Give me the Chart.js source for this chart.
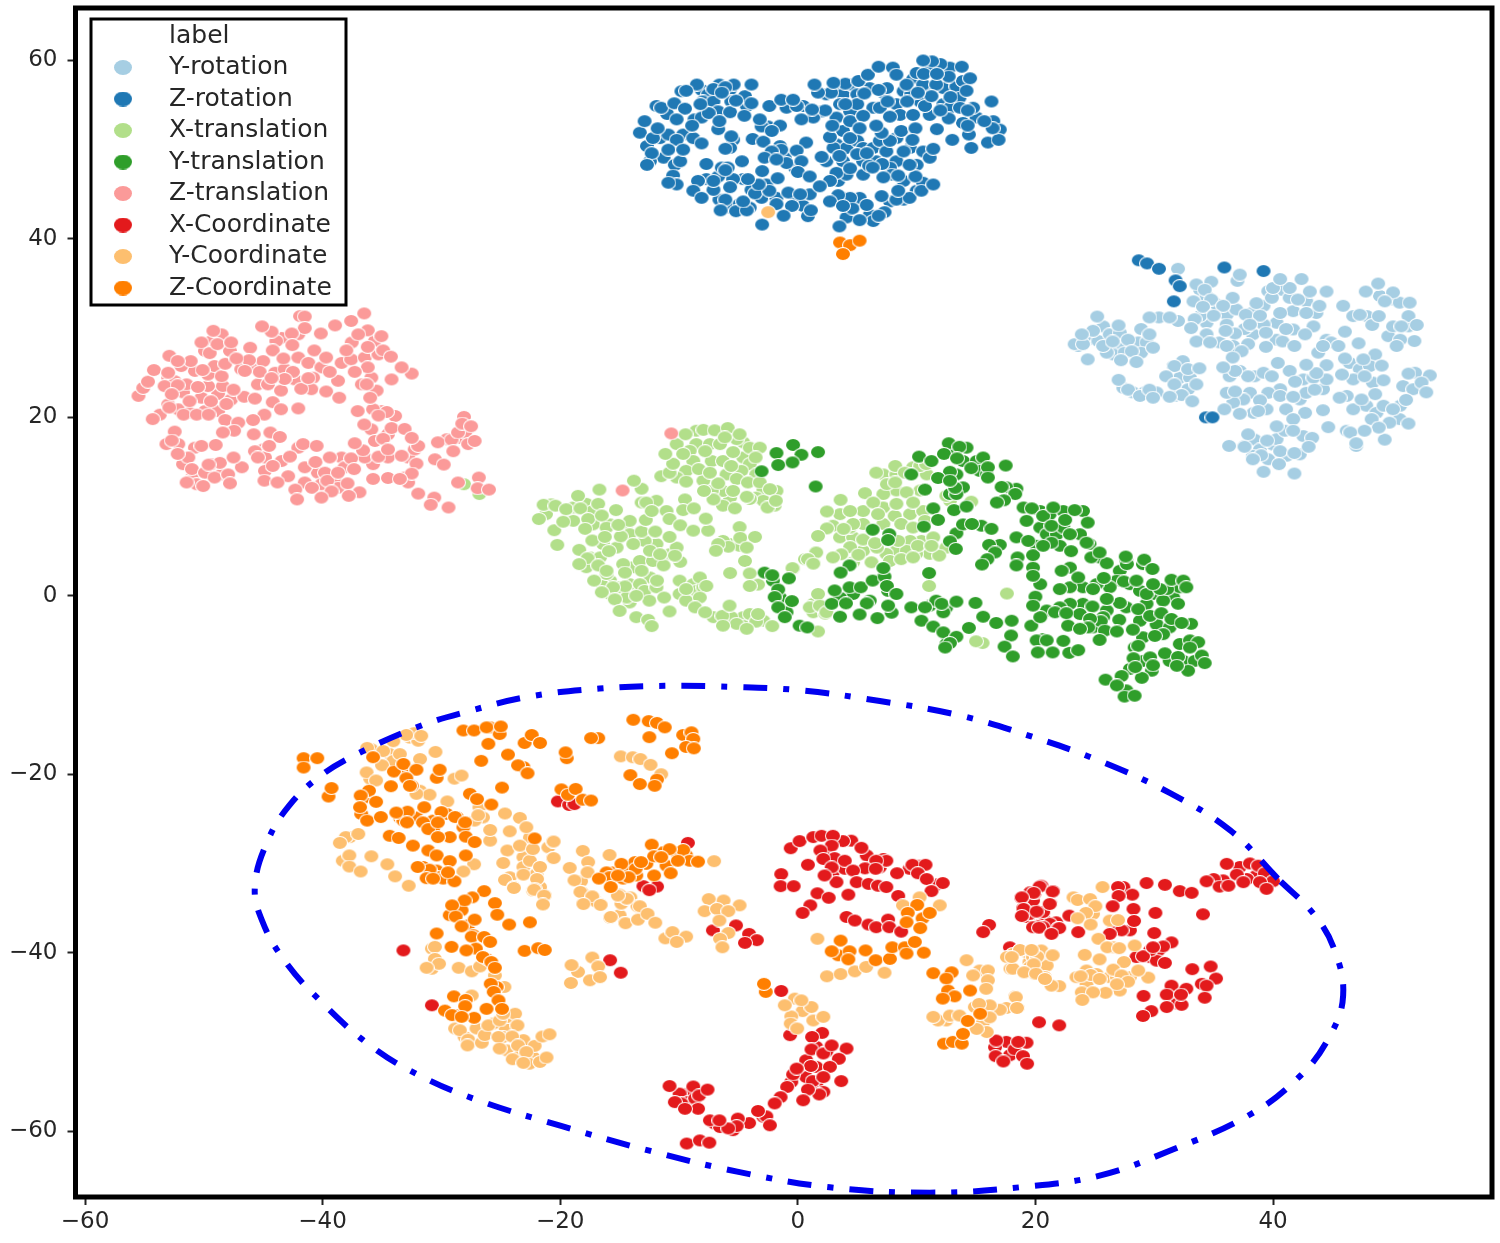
<!DOCTYPE html>
<html>
<head>
<meta charset="utf-8">
<title>t-SNE clusters</title>
<script src="https://cdn.jsdelivr.net/npm/chart.js@4"></script>
<style>
body{margin:0;background:#fff}
canvas{display:block}
</style>
</head>
<body>
<canvas id="chart" width="1500" height="1243"></canvas>
<script>
const xTicks=[-60,-40,-20,0,20,40]
const yTicks=[-60,-40,-20,0,20,40,60]
const legendTitle="label"
const labels=["Y-rotation","Z-rotation","X-translation","Y-translation","Z-translation","X-Coordinate","Y-Coordinate","Z-Coordinate"]
const colors=["#a6cee3","#1f78b4","#b2df8a","#2f9e2a","#fb9a99","#e31a1c","#fdbf6f","#ff7f00"]

const yRotation=[
[23.6,28],[24.4,28.7],[25.3,28.55],[25.7,30.2],[26.25,29.3],[27.1,29.5],[27.2,28],[28.65,28.4],[29.35,28.4],[26.55,27.05],[27.5,27.25],[28.9,27.25],[27.4,23.3],[28.2,22.8],[29.2,22.8],[30.2,22.8],[31.6,25.75],[32.4,26.3],[32.15,24.45],[33,24.45],[32.85,23.15],[31.75,22.4],
[33.85,34.3],[34.4,33.6],[35.25,32.65],[36.1,31.5],[36.9,32.1],[38.2,31.7],[39.2,32.5],[39.6,34.15],[40.7,34.3],[41.4,33.4],[42.8,33],[43.65,31.7],[41.7,31.9],[40.3,30.6],[39.2,30.4],[38.3,29.3],[37.6,29.9],[36.1,30.4],[34.4,30.6],[33.85,31.35],[34.4,29.3],[35.5,28.4],[36.65,28],[37.9,28.2],[40.3,28.7],[41.7,29.85],[43.4,30.2],[44.5,28.7],[43.8,27.25],[44.9,28.4],
[36.35,24.6],[37.2,25.2],[38.45,24.6],[39.2,25],[40.6,23.15],[39.6,22.75],[38.05,22.75],[37.5,22],[36.65,21.65],[36.1,22.75],[38.35,20.5],[39.45,20.9],[41.1,20.9],[42.25,22],[42.8,22.75],[44.2,23.15],[42.55,24.25],[43.4,24.45],[44.5,24.25],[46.45,26.1],[47.3,25.4],[48.15,25.75],[46.75,24.25],[48.4,23.9],[46.2,22.4],[47.85,21.3],[48.7,20.5],[49.3,21.3],[50.7,21.3],[50.95,23.5],[51.95,25],[51.8,23.15],[50.65,19.8],[49.8,19.4],[48.3,19.8],[47,16.8],[46.2,18.5],
[37.6,16.8],[38.45,17.5],[38.9,16.4],[40,16.95],[38.3,15.7],[39.6,15.3],[41.15,15.7],[42.25,15.85],[40.3,17.55],[41,18.5],[42.55,17.9],[50.1,33.2],[49,33.6],[50.65,32.85],[49.7,29.1],[50.1,30.2],[51.4,30.2],[47.9,31.35],[46.75,31.35],
[32,36.65],[25.2,31.3],[24.85,29.7],[23.3,28.2],[24,28.2],[23.9,29.3],[24.4,26.5],[26,27.25],[25.7,28],[26.5,28.5],[27,30.3],[27.8,28.7],[28.9,29.9],[28.1,27.4],[27.2,26.4],[28.5,26.2],[29.9,27.8],[29.6,29.3],[30.4,31.2],[29.6,31.2],[32,30.8],[31.3,31.2],
[27,24.2],[27.8,23.1],[28.8,22.4],[29.6,23.1],[29.9,22.2],[31.7,25.75],[32.85,25.4],[33.8,25.5],[31,24.6],[31.7,23.7],[33.55,23.7],[32.3,22.5],[33.2,21.8],[31.3,22.3],
[33.55,34.9],[34.8,35.2],[34.25,34.3],[34.8,33.2],[33.3,33],[36.6,33.4],[37,35.3],[37.2,36],[35.8,32.5],[34.1,32.4],[33.4,31],[35,31.4],[33.1,30],[33.55,28.5],[34.7,28.4],[36.8,29.4],[36,29.7],[36.1,28],[37.35,27.4],[36.6,26.7],
[37.7,31.5],[38.9,31.4],[38.6,32.8],[39.9,33.4],[40,34.5],[41.4,34.5],[40.6,35.5],[42.4,35.5],[43.1,34.1],[44.5,34.1],[42.1,33.2],[40.6,31.7],[43.9,32.5],[45.9,32.5],[42.8,31.7],[39.4,29.5],[39.4,27.9],[40.8,28.5],[41.8,28],[42.7,29.3],[41.1,29.9],[38.05,30.4],
[44.2,28],[46.05,29.6],[47.2,28.3],[45.5,28],[47.3,31.5],[48.35,30.35],[48.9,31.35],[47.8,34.1],[48.85,35],[50.1,34],[49.4,33],[51.5,32.85],[51.4,31.35],[50.8,30.2],[51.9,28.55],[50.7,28.7],[50.4,28],[52.1,30.35],
[48.6,27.05],[47.6,26.5],[46.05,26.6],[49.15,25.8],[47.7,24.6],[49.3,24.15],[51.4,24.9],[53.2,24.7],[52.5,23.9],[52.9,22.8],[51.2,21.95],[50.1,20.9],[51.4,19.3],[49.4,17.5],[48.9,18.85],[47.7,18.5],[46.5,18.3],[47,17.1],[46.75,20.9],[45.6,22.2],[48.6,22.6],[47.45,22],
[45.8,24.8],[44.5,25.85],[43.65,24.95],[42.8,25.9],[43.5,23.1],[41.4,25.2],[40.4,26.1],[41.85,24],[39.9,24.6],[37.9,24.6],[36.8,25.2],[35.8,25.6],[36.8,22.9],[35.9,20.9],[37.2,20.4],[38.9,21.9],[38.75,20.7],[40.6,22.4],[41.7,22.3],[44.2,20.8],[42.7,20.5],[41.7,19.8],[40.3,19],[41.7,18.5],[44.65,18.9],[43.3,17.7],[43,16.7],
[39.5,17.4],[37.9,18.1],[36.3,16.8],[37.6,16.7],[39,15.75],[40.6,16.2],[41.8,16],[40.5,14.75],[39.2,13.9],[41.8,13.7],[38.3,15.3]
]

const zRotation=[
[-13.3,51.9],[-12.7,50.4],[-11.6,51.3],[-11.3,49.1],[-10.35,48.3],[-9.9,48.7],[-12.45,48.7],[-10.9,51.7],[-9.65,51.7],[-8.8,51.3],[-8.7,53.4],[-11,54],[-11.9,54.9],[-9.8,56.55],[-8.1,56.7],[-7.55,56.2],[-6.6,57.3],[-5.7,56.75],[-8,55.4],[-7.1,55.4],[-6.7,54.3],[-8.1,53.6],[-4.3,54.9],[-5.6,55.4],[-4.45,56],
[-6.6,44.4],[-5.7,43.5],[-4.9,43.9],[-4.05,43.5],[-3.05,44.6],[-4.6,46.7],[-5.45,46.7],[-7.7,46.7],[-6.7,47],[-3.9,45.5],[-1.8,44.6],[-0.1,44.6],[0.45,43.7],[0.85,42.55],[-2.65,46.1],[-7.1,45.5],[-6.4,48],[-5.9,48],[-5.45,51.1],[-5.7,50.2],[-2.1,49.3],[-1.5,50.4],[-1.1,49.1],[-0.25,48],[-2.5,52.6],[-3.05,52.6],
[-0.95,54.7],[0.45,54.9],[2,54.3],[2.4,56.2],[3.25,57.1],[3.8,56.2],[4.5,57.3],[5,56.2],[4.4,54.3],[3.55,55.1],[3.25,53.6],[3.8,52.1],[4.4,53.2],[5,55.1],[6.05,56.9],[7.2,56.4],[7.5,56.9],[6.35,54.7],[6.9,54.7],[8.3,55.1],[8.6,53.9],[9.7,53.9],[10.3,55.4],[11.1,56.9],[12.25,56.9],[13.35,57.1],[13.9,57.7],[12.8,59.2],[11.1,58.8],[9.7,57.9],[8.9,56.55],[9.55,56.2],[10.55,57.3],[11.65,57.3],[13.6,55.8],[12.25,55.1],[11.1,53.9],[12.8,54.7],[15.05,53.6],[16.45,53.2],[17,52.25],[13.9,53],[13.65,54.7],[14.75,54.7],
[3.25,50.6],[4.1,50.2],[3.8,48.7],[5,51],[5.5,50.2],[6.35,50.2],[6.9,51],[7.45,49.8],[8.3,51.3],[9.45,50.2],[8.3,48.7],[7.75,48],[6.6,48.7],[5.5,48.7],[4.4,51.3],[3,50.2],[2.4,48.7],[3.4,46.5],[4.1,47.2],[3.8,44.6],[5.2,44.6],[4.4,44.6],[4.1,42.4],[6.05,42.7],[6.35,42],[7.75,44.2],[8.9,44.4],[10,45.4],[10.55,46.3],[8.9,46.5],[7.9,47.2],[5.5,47.2],[3.25,47.4],[10,48.3],[10.55,49.8],
[-12.9,53.2],[-12.2,51.3],[-12.3,49.6],[-12.7,48.3],[-11.5,54.7],[-10.4,55.2],[-9.5,54.6],[-8.5,57.3],[-9.4,56.6],[-7.1,56.8],[-5.4,57.3],[-3.9,57.3],[-6.1,57],[-6.4,56.4],[-10.2,53.4],[-8.9,52.7],[-7.5,54.1],[-8.2,55.1],[-5.7,54.2],[-5.2,55.5],[-3.9,55.2],[-4.5,53.8],[-3.2,53.4],[-6.7,52.3],[-6.6,53.2],
[-10.2,51.1],[-10.9,50],[-9.65,50],[-8.1,50.7],[-11.8,52.4],[-10.5,47.1],[-10.2,46.1],[-10.9,46.3],[-7.7,48.4],[-6.1,50.1],[-5.6,51.5],[-4.7,48.7],[-6.1,47.7],[-8.4,46.5],[-7.1,46.5],[-5.7,45.8],[-8.8,45.4],[-8.1,44.6],[-6.1,44.4],[-6.5,43.2],[-5.2,43.1],[-4.3,43.2],[-4.6,44.2],[-3.6,45.1],[-2.4,45.4],[-3.3,46.1],[-4.2,46.7],[-1.7,46.8],[-3,47.6],
[-3.8,51.2],[-2.9,50.9],[-1.5,52.7],[-2.4,54.9],[-1.4,55.6],[-0.1,54.9],[-2.2,52.1],[-0.4,55.6],[1.3,53.6],[0.3,53.4],[0.7,50.8],[-0.1,49.9],[-1.4,50],[-2.2,49.8],[-0.95,48.5],[0.3,48.7],[0,47.5],[1,47],[-2.8,49.1],[-1.8,48.9],[-0.8,45.2],[1,45],[0.2,45],[-1.8,43.9],[-0.5,43.7],[1.1,43.2],[-3,41.6],[-1.2,42.6],
[2,49.2],[2.7,51.4],[2.9,52.7],[2.3,54.4],[1.2,54.5],[2.8,56.4],[1.7,56.4],[1.4,57.3],[4,57.4],[3,57.5],[5.1,57.7],[5.9,58.4],[6.8,59.3],[8,59.2],[5.6,56.3],[4,55.1],[5.5,53.8],[5.2,52.4],[3.5,49.3],[4.4,47.9],[2.7,46.5],[1.85,45.9],[3.4,44.9],[2.7,44.2],[4.6,43.4],[3.8,43.7],[3.5,41.4],[5.2,42.1],[5.8,43.8],[7.3,43],[6.8,42.6],[7.05,44.8],[8.3,44.4],[9.4,44.6],[8.45,45.4],[10.4,45.4],[11.4,46.1],[9.9,47],[8.45,47.1],[7.2,46.9],
[6,48.2],[5,49.5],[5.8,49.6],[7.1,48.4],[6.3,48],[8.9,49.8],[9.4,48.3],[11.1,49.1],[11.4,50.1],[7.75,51],[7.05,51.9],[8.7,52.1],[9.9,52.4],[11.7,52.3],[9.65,51.1],[13,51.1],[14.6,50.2],[14.4,51.7],[16,50.8],[16.9,51.1],[16.4,52.4],[15.7,53.2],[14.3,52.7],[12.7,53.5],[12,54.4],[14.3,54.4],[16.3,55.4],[10.7,54.9],[9.2,55.4],[7.75,53.7],[6.6,52.7],[7.55,55.4],[6.8,56.7],[9.15,57.3],[8.3,58.4],[10,58.6],[10.6,58.5],[12,59.6],[11.3,59.9],[10.55,60],[13.8,59.3],[12.7,58.2],[14.5,58],[11.7,58.5],[14.2,56.6],[12.85,55.9],[11.25,56],[10.1,56.4],
[28.7,37.6],[29.4,37.25],[30.4,36.65],[31.8,35.35],[32.15,34.7],[31.65,33],[35.9,36.8],[39.2,36.4],[34.35,20],[34.9,20]
]

const xTranslation=[
[-28.1,12.5],[-26.8,11.4],
[-21.2,9.15],[-20.75,10.25],[-18.9,9.9],[-17.8,10.3],[-17.25,9.5],[-18.9,8.4],[-17.25,8],[-15.8,8],[-16.1,7.65],[-14.4,8],[-14.15,6.9],[-16.4,5.8],[-15.25,5.4],[-17.5,4.3],[-16.65,4.3],[-17.8,3.2],[-15.8,1.7],[-16.4,1.1],[-15.8,0.2],[-15,0.95],[-14.15,1.3],[-13.85,3.2],[-13.3,3.9],[-12.2,3.9],[-12.45,2.05],[-13.3,1.3],[-12.9,0.55],[-11.9,0.95],[-14.15,-0.75],[-14.4,-0.2],[-16.1,2.45],[-14.7,3.55],[-10.8,4.65],[-10.2,5.4],[-11.9,5.8],[-12.9,6.15],[-14.15,8.4],
[-9.95,1.7],[-8.8,1.3],[-8.55,0.55],[-9.95,0.2],[-7.95,0.95],[-4.6,-2.4],[-5.6,-2.4],[-4.6,-3.35],[-2.9,-2.8],[-4.05,-2.05],[-7.1,-2.4],[-8.55,18.5],[-8.55,17],[-7.4,17],[-6.55,17],[-4.6,17.2],[-5.15,17.55],[-9.1,16.25],[-10.2,17],[-8.8,15.1],[-7.25,15.1],[-6.3,15.1],[-4.6,15.5],[-4.05,14.75],[-9.4,14],[-10.2,13.25],[-7.95,12.9],[-6,13.6],[-4.75,14],[-3.5,13.6],[-2.9,11.95],[-1.8,11.75],[-5.7,11],[-6.3,11.75],[-7.25,11.75],[-3.5,11],[-1.95,10.1],[-2.9,10.65],[-4.05,10.85],[-5.7,5.8],[-4.9,5.6],[-6.3,6.15],[-13.15,10.45],[-11.9,10.65],
[7.2,13.6],[8.3,13.6],[9.7,14.4],[10.85,13.6],[8.3,11.8],[7.2,11.4],[10.3,11.8],[7.2,9.9],[5.5,9.5],[3.55,9.15],[2.95,7.85],[3.55,6.55],[4.65,6.55],[4.4,7.65],[5.5,8.05],[7.2,8.05],[8.15,8.95],[9.45,9.15],[10.55,9.5],[10.4,6.15],[9.45,6.15],[8.3,5.05],[7.45,4.7],[5.5,5.05],[4.4,5.45],[11.1,4.7],[6.65,5.4],[4.65,3.75],[7.75,3.9],[9.95,4.7],[9.15,5.05],[10.7,8.4],[11.4,6.55],[12.5,5.4],[1.3,-0.9],[2,-1.65],[1.3,-1.85],
[-21.8,8.6],[-21.4,10.2],[-20.4,10.1],[-19.5,9.7],[-20.5,7.35],[-20.25,5.7],[-19.75,8.3],[-18.5,11.2],[-18.3,9.8],[-16.7,11.9],[-16.8,10.3],[-15.3,9.6],[-17.65,8.6],[-16.5,9],[-17.9,7.5],[-17.3,6.2],[-16.25,6.6],[-14.9,6.65],[-15.1,7.95],[-18.4,5.15],[-17.7,4.2],[-15.9,5],[-16.8,3.4],[-18.4,3.55],[-17.15,1.7],[-16.1,2.8],[-14.55,1.05],[-15.55,0.95],[-16.5,0.4],[-15.4,-0.4],[-15,-1.7],[-13.6,-2.4],[-12.6,-2.7],[-12.3,-3.4],[-12.5,-0.55],[-13.6,0],[-11.25,-0.2],[-10.8,-1.75],[-11.85,1.7],[-13.15,2.8],[-14.55,2.6],[-13.85,5.8],[-12.45,5.05],[-13.15,7.2],[-12,7.2],[-12.8,8.5],[-10.8,6.6],[-11.3,3.4],[-11.6,4.65],[-9.9,3.8],[-10.35,4.5],
[-13.15,12],[-13.8,12.9],[-12.75,10.45],[-12.3,9.5],[-11.05,9.5],[-10.8,8.6],[-9.9,7.9],[-8.8,7.3],[-7.55,7.3],[-9.5,10.8],[-9.65,9.6],[-8.75,9.8],[-7.75,8.65],[-6.3,10.1],[-5.3,9.8],[-7.1,10.8],[-7.9,11.75],[-6.7,12.6],[-9.4,12.8],[-11.5,13.4],[-10.8,13.8],[-10.5,14.8],[-11.15,15.9],[-9.65,15.9],[-9.45,18.1],[-7.8,16.2],[-7.95,18.6],[-7,18.55],[-5.9,18.8],[-6.15,17.75],[-4.9,18.1],[-5.45,16.1],[-4.05,16.6],[-3.2,16.6],[-3.55,15.5],[-5.6,14.55],[-8.35,14.2],[-7.4,13.8],[-5.15,13.1],[-4.2,12.7],[-3.2,12.7],[-2.35,11.95],[-4.3,11.1],[-5.45,11.75],[-2.55,9.9],[-1.85,10.65],
[-4.9,7.7],[-4.85,6.5],[-3.6,6.6],[-5.85,5.5],[-6.7,5.8],[-6.9,5.05],[-4.3,5.4],[-4.45,3.9],[-5.7,2.55],[-4.05,2.5],[-3.35,1.25],[-4.05,1.1],[-9.4,-0.55],[-9.4,0.75],[-8.25,2.05],[-7.7,1.1],[-8.25,-0.2],[-8.65,-1.3],[-7.8,-1.85],[-6.35,-2.25],[-5.75,-1.1],[-5.15,-3.15],[-3.5,-2.9],[-3.35,-2.05],[-2.15,-3.4],[-4.3,-3.7],[-6.3,-3.35],[-0.4,3.05],[1.3,3.65],[1.5,4.85],[0.6,4.1],[1.85,-1.1],[1,-1.3],[1.7,0.2],[2.3,-2],[1.7,-4],
[6.6,13.8],[8.2,14.55],[9,13.8],[10.3,14.55],[7.5,12.5],[8.2,12.7],[9.15,11.6],[5.65,11.5],[6.35,10.45],[3.6,10.75],[4.4,9.5],[2.45,9.45],[8.3,10.3],[6.75,9.15],[9.7,10.45],[4.65,8.05],[2.45,7.55],[3.85,7.5],[1.7,6.7],[5.5,6.3],[6.5,5.9],[8.7,8.05],[9.7,7.65],[10.1,5.6],[8.7,4.1],[6.2,3.75],[5.1,4.6],[3.65,4.65],[2.95,4.3],[8.45,6.15],[9.7,4.3],[11.9,4.5],[11.25,5.6],[1.55,4.85],[0.85,4.1],[1.3,3.6],[-0.45,3.1],[1.85,-1.1],[2.4,-1.85],[12.8,10.65],[14.6,10.55],[11.05,1.1],[17.6,0.25],[15.55,-5.3],[15,-5.1],[10.8,14.75],[12.5,11.2]
]

const yTranslation=[
[13.1,16.25],[14.2,16.6],[13.9,15.1],[15.05,15.1],[15.6,15.5],[15.3,14],[15.9,13.6],[13.35,13.6],[13.9,12.15],[12.8,11.4],[13.35,11.4],[18.4,12],[17.55,12.15],[19,9.9],[20.4,9.5],[21.2,9.15],[22.35,9.5],[24,9.5],[20.4,7.65],[20.95,6.9],[21.8,6.9],[22.35,7.65],[23.75,6.9],[22.05,5.6],[20.1,5.6],[24.55,5.8],[19.8,3.15],[22.9,3.15],[25.4,4.3],[27.65,3.9],[27.1,2.8],[26.85,1.7],[27.95,1.3],[26.25,0.95],[24,0.95],[22.9,0.95],[25.15,1.3],[29.05,3.55],[28.8,0.55],[29.9,0.2],[31.6,-0.2],[32.15,0.95],[30.75,-0.55],[29.35,-0.9],[27.65,-1.3],[26,-1.65],[24,-0.9],[22.9,-0.9],[22.05,-1.3],[20.95,-1.65],[23.75,-2.05],[24.85,-3.55],[25.7,-2.4],[28.8,-2.8],[30.2,-3.2],[31.3,-3.55],[29.05,-4.65],[30.75,-4.3],[32.15,-5.4],[33,-5],[29.05,-7.3],[29.65,-6.9],[27.95,-8.2],[32.45,-7.3],[31.3,-7.3],[33.4,-7.3],[28.35,-5.8],[29.8,-8.4],[27.65,-10.6],[12.5,-1.3],[11.1,-1.1],[11.65,-0.55],[12.5,-5.4],[20.65,-4.85],[6.05,-0.55],[4.65,0.2],[3.55,-0.2],[7.2,2.05],[7.6,0.55],[-1.5,-0.2],[-0.95,-1.85],[-2.1,1.7],
[1.7,16.1],[-0.4,16.9],[0.3,15.8],[-1.8,16],[-0.45,14.95],[-1.65,14.65],[-3.05,13.95],[1.5,12.25],[9.55,13.6],[10.2,15.6],[11.25,15.1],[12.7,17.1],[13.6,16.7],[12.3,15.9],[13.4,15.4],[14.6,14.3],[16,14.4],[17.5,14.6],[12.8,13.9],[11.8,13.2],[10.7,11.9],[13.25,12.1],[12.8,12.9],[16,13.25],[17.15,12.2],[18.3,11.4],[17.35,10.7],[16.75,10.45],[11.4,9.8],[13.15,9.6],[14.2,10],[11.8,8.5],[10.6,7.75],[13.35,7],[13.9,8],[15.45,7.85],[16.3,7.5],[14.65,8.05],[12.8,6.1],[13.3,5.25],[17,5.7],[16.1,5.7],[16.6,4.85],[15.95,4.1],[15.5,3.5],[6.3,7.4],[7.7,6.9],[7.6,6.25],[11.05,2.55],
[4.35,3.4],[3.6,2.6],[-2.8,2.6],[-2.15,2.3],[-0.75,1.95],[-1.65,0.7],[-1.95,-0.15],[-0.5,-0.6],[-1.65,-1.3],[-1.1,-2.4],[0.15,-3.35],[0.8,-3.55],[3.1,0.6],[2.85,-0.9],[4.05,-0.85],[4.35,0.95],[5.3,0.95],[5.8,-0.85],[3.55,-2.35],[5.2,-2.1],[6.3,1.7],[7.3,2.15],[7.2,3.1],[7.5,1.1],[8.3,0.2],[6.7,-2.5],[7.9,-1.9],[7.6,-1.1],[9.55,-1.3],[10.7,-1.3],[10.4,-2.8],[12.25,-1.85],[12.1,-0.9],[11.4,-3.45],[12.25,-4.1],[13.35,-4.6],[12.8,-5.3],[12.4,-5.8],[13.35,-0.65],[14.95,-0.8],[14.4,-3.6],[15.6,-2.35],[16.7,-3.05],[18,-2.8],[17.95,-4.45],[17.4,-5.7],[18.1,-6.8],[20.1,-5],[20.95,-5],[20.2,-6.35],[21.45,-6.35],[22.85,-6.4],[23.6,-6.1],[22.35,-5.05],
[19.65,-3.35],[20.4,-2.4],[21.65,-1.85],[22.6,-1.95],[22.75,-3.35],[20,-0.1],[19.8,-1.1],[20.4,1.3],[22.05,0.75],[22.2,2.8],[23.6,2.05],[19.8,4.55],[18.5,4.3],[18.4,3.4],[19.8,2.25],[18.4,6.55],[19.4,6.15],[19.25,8.4],[19.7,9.8],[20.65,8.95],[21.35,7.85],[22.5,8.5],[23.3,9.6],[24.4,8.2],[22.9,6.9],[21.5,9.9],[21.35,5.95],[23,5],[24.3,5.95],[20.65,5.6],[24.7,4.3],[26,3.65],[25.4,4.85],[27.7,3.55],[27.6,4.4],[29.15,4.05],[29.85,3],[25.75,2],[24.85,0.75],[27.45,1.6],[28.5,1.7],[27.1,-0.8],[26,-0.35],[24.8,-1.2],[27.05,-2.7],[25.5,-2.85],[24.6,-2.6],[25.85,-3.9],[26.85,-4],[28.2,-3.8],[25.4,-4.95],[24.45,-3.55],[23.75,-3.7],
[28.65,-1.5],[29.35,0.2],[29.65,-2.25],[30.6,-1.95],[30.05,-4.5],[31.1,0.75],[31.45,1.8],[32.45,1.7],[32.7,0.95],[32,-0.9],[31.45,-2.6],[33.1,-3.15],[32.3,-3.05],[30.5,0.75],[29.9,1.3],[28.65,-5.6],[28.25,-7],[28.95,-9.2],[29.9,-7.8],[30.9,-6.45],[32,-6.85],[32.85,-8.4],[31.9,-7.85],[34,-6.7],[34.25,-7.55],[33.7,-5.2],[33,-5.8],[25.9,-9.4],[27.25,-9],[26.85,-10.05],[27.5,-11.3],[28.35,-11.2],[28.4,-8]
]

const zTranslation=[
[-53,24.45],[-52.45,24.05],[-53.3,23.5],[-51.75,22.8],[-53,21.45],[-52.15,20.9],[-51.2,20.5],[-49.9,20.7],[-48.8,20.7],[-50.2,22.2],[-48.8,22.6],[-47.7,22],[-49.65,23.5],[-51.45,23.7],[-49.65,24.8],[-49.1,25.75],[-50.75,25.2],[-49.35,28.55],[-47.8,27.45],[-49.9,27.45],[-50.2,28.4],[-51.9,25.75],[-46.85,25.4],[-45.85,25.6],[-45,26.3],[-45.45,23.7],[-44,25],[-44.6,23.7],[-43.2,25.4],[-42.05,26.7],[-41.2,26.1],[-40.1,25.6],[-40.8,24.45],[-42.35,24.25],[-40.95,23.15],[-38.7,24.1],[-38.4,26.1],[-37.6,26.5],[-36.45,26.7],[-35.9,24.45],[-36.7,23.7],[-37.55,28.4],[-35.6,28.55],[-35.3,27.05],[-42.05,29.3],[-43.45,28.9],[-43.9,28.55],[-41.9,31.35],
[-35.05,20.7],[-33.9,20.15],[-35.75,20.9],[-35.9,18.65],[-34.5,18.1],[-35.6,17.35],[-34.5,15.5],[-35.75,14.75],[-36.45,15.5],[-38.4,15.5],[-38.15,14.4],[-38.95,13.25],[-40.4,13.8],[-41.5,14.4],[-42.05,16.6],[-45,16.4],[-45.7,16.2],[-44.85,15.5],[-44.85,14],[-43.45,15.1],[-41.5,12.7],[-40.1,12.5],[-38.7,12.1],[-51,13.25],[-50.6,12.5],[-51.45,12.7],[-49.35,14.75],[-48.5,13.6],[-50.75,16.6],[-52.15,17],[-53.15,17],[-51.75,14.75],[-51.3,15.5],[-33.1,13.25],[-32.8,15.5],[-32.25,16.4],[-28.45,17.7],[-28,18.3],[-29.55,17.55],[-27.75,17],
[-55.5,22.4],[-55.1,23.3],[-54.7,24],[-54.2,25.3],[-52.9,26.9],[-51.1,26.3],[-52.2,26.3],[-53,25],[-52.2,23.6],[-52.7,22.6],[-53.7,20.3],[-54.3,19.8],[-51.2,21.8],[-51.7,20.3],[-50.6,20.3],[-52.9,21.1],[-52.45,18.4],[-52.7,17.4],[-52.2,15.9],[-51,14.2],[-50.2,16.8],[-49,16.9],[-49.9,13.8],[-49.1,13.25],[-50.05,12.3],[-47.95,13.6],[-47.8,12.6],[-48.65,14.9],[-49.6,14.7],[-46.8,14.4],[-47.5,15.5],
[-50.5,23.4],[-49.4,21.8],[-48.4,23.5],[-48.1,21.5],[-49.6,20.3],[-50.1,25.3],[-48.5,24.6],[-48.2,26],[-49.5,27.2],[-48.5,29.3],[-49.2,29.7],[-48.85,28.2],[-47.7,28.4],[-46.1,27.8],[-46.2,26.4],[-47.25,26.6],[-45.3,25.1],[-46.55,25.2],[-46.6,22.3],[-47.5,23.1],[-45.7,22.1],[-44.2,21.7],[-43.5,23],[-44.9,20.3],[-45.85,19.7],[-43.5,20.9],[-42.05,21],
[-48.2,19.7],[-47.1,19.4],[-47.45,18.5],[-48.4,18.3],[-45.8,18.1],[-44.4,18.3],[-43.6,17.8],[-44.5,16.8],[-45.45,15.5],[-44.2,14.55],[-42.75,15.6],[-42.9,13.4],[-44.9,12.9],[-43.8,12.7],[-41.65,17],[-40.5,16.8],[-40.6,15],[-39.4,15.5],[-40.9,12.1],[-42.3,11.9],[-42.15,10.8],[-39.8,13.8],[-39.6,12.9],[-39.25,11.7],[-40.1,11],[-37.9,12.6],[-36.9,11.6],[-37.8,11.2],[-37.6,15.4],[-36.6,16.3],[-37.35,14.2],[-38.7,13.8],[-35.75,13.1],[-34.5,13.2],[-35.3,15.6],[-37.3,17.1],[-34.9,17.6],[-34.2,18.8],[-34.5,16.4],[-36.5,19.2],[-37.05,20.7],[-34.6,20.6],[-35.3,20.2],
[-33.1,18.7],[-31.95,16.8],[-32.5,17.7],[-32.1,14.8],[-33.35,15.7],[-32.8,12.7],[-32.5,13.7],[-33.5,13.1],[-31.95,11.45],[-30.6,11],[-30.9,10.2],[-29.4,9.9],[-30.3,17.2],[-29.15,17.5],[-28.6,18.3],[-28.1,20.05],[-28.25,19.3],[-27.5,19],[-27.2,17.35],[-29,16.2],[-30.55,15.3],[-29.8,14.7],[-28.6,12.7],[-26.85,13.25],[-26.95,12.05],[-26,11.9],
[-32.5,24.9],[-33.35,25.6],[-34.2,24.25],[-35.45,23],[-36,22.2],[-36.2,25.6],[-37.3,25.1],[-34.9,27.5],[-34.25,26.8],[-36.2,27.9],[-36.2,29.75],[-36.5,31.65],[-37.6,30.8],[-38.95,30.3],[-40.15,29.4],[-41.5,31.3],[-41.5,30],[-42.6,29.4],[-44.3,29.6],[-45.1,30.2],[-42.55,28.1],[-44.2,27.5],[-43.3,26.6],[-40.7,27.5],[-38,27.5],[-39.7,26.7],[-39.4,25.1],[-42.5,25.1],[-41.8,23.2],[-39.7,22.9],[-38.6,22.2],[-41.2,24.4],[-43.2,24.3],[-44.3,24.4],[-37,29.3],[-35.05,29.1],[-36.3,23.7],
[-10.65,18.2],[-14.75,11.8]
]

const xCoordinate=[
[-33.2,-39.75],[-30.8,-45.9],[-15.8,-40.85],[-14.9,-42.25],
[-9.25,-27.7],[-13,-32.55],[-11.85,-32.6],[-12.5,-33],[-20.2,-23.05],[-19.25,-23.45],[-18.8,-23.35],[-7.15,-37.5],[-5.2,-36.95],[-4.1,-37.9],[-3.45,-38.6],[-4.45,-38.9],
[1.55,-50.55],[2.4,-51.1],[1.55,-52.8],[0.7,-52.05],[0,-53.2],[0.7,-53.95],[1.55,-54.7],[1.3,-55.4],[2.15,-55.6],[-0.55,-54.5],[-7,-59.15],[-5.45,-59.9],[-2.9,-58.4],[-9.25,-55.8],[-9.95,-55.8],[-9.25,-56.75],[-8.65,-56.35],
[-1.4,-44.3],[-0.65,-49.25],[2.05,-49],[1.2,-49.45],[1.15,-50.85],[2.15,-51.3],[4.1,-50.75],[3.45,-51.9],[2.85,-50.4],[1.1,-52.7],[3.65,-54.4],[2.7,-52.8],[-0.4,-53.65],[-0.1,-53],[1.25,-54.4],[-0.9,-55.05],[1.8,-55.9],[0.85,-55.35],[0.45,-56.55],[-1.45,-56.2],[-1.95,-56.9],[2.15,-53.95],[-2.65,-58.35],[-3.35,-57.75],[-2.35,-59.35],[-4.1,-59.1],[-5.05,-58.6],[-5.15,-59.45],[-6.55,-59.55],[-7.4,-58.8],[-5.85,-59.7],[-6.6,-58.8],[-10.8,-54.95],[-9.8,-56.9],[-8.8,-55],[-8.3,-56],[-7.6,-55.35],[-8.4,-57.5],[-10.35,-56.75],[-9.5,-57.5],[-9.35,-61.4],[-8.25,-61.05],[-7.45,-61.3],
[2.55,-29.3],[3.4,-29.85],[2.95,-31],[3.95,-30.6],[6.05,-30.25],[6.9,-30.45],[9.4,-30.6],[10.25,-30.25],[7.2,-29.5],[4.5,-27.45],[5.8,-29.1],[19.55,-33.2],[19.8,-34.15],[20.65,-35.45],[19.8,-36.6],[20.65,-36.2],[21.75,-36.6],[18.55,-51.3],[17.85,-51.5],[17.55,-50],
[-0.6,-28.3],[0.15,-27.5],[1.3,-27.05],[2,-26.9],[3.8,-27.5],[2.95,-26.9],[2.85,-28],[5.35,-28.25],[1.9,-28.55],[0.85,-30.15],[3.1,-29.4],[2.15,-29.5],[3.95,-29.7],[2.85,-30.45],[7.45,-29.7],[6.6,-29.7],[5.65,-30.55],[4.65,-30.8],[6.55,-30.6],[8.35,-31.1],[9.65,-30.15],[10.75,-30.15],[10.1,-31.1],[11.7,-32.35],[12.2,-32.2],[10.85,-31.75],[11.25,-33.1],[-1.4,-31.2],[-1.45,-32.55],[-0.35,-32.55],[3.25,-32.1],[2.25,-31.35],[4.95,-32.1],[5.95,-32.3],[6.75,-32.5],[7.45,-32.65],[4.25,-33.5],[1.65,-33.35],[2.6,-33.85],[8.45,-33.65],[1.05,-34.7],[0.4,-35.55],[4.1,-36],[4.8,-36.4],[5.95,-36.85],[6.6,-37.15],[7.6,-36.3],[7.7,-37.15],[8.7,-37.65],[16.1,-36.9],[15.6,-37.7],
[19.95,-33.35],[21.5,-33.1],[20.5,-32.5],[18.8,-33.85],[18.95,-35],[20.1,-35.4],[21.25,-34.5],[21.2,-36.75],[21.9,-37.25],[20.2,-37.05],[19.25,-36],[17.85,-39.4],[20.3,-47.8],[22,-48.15],[18.25,-50.85],[16.6,-50.6],[16.65,-51.6],[17.3,-52.2],[19.25,-50.1],[18.95,-51.6],[19.3,-52.45],[18.55,-50],[16.7,-49.85],
[19.8,-37.15],[20.65,-37.15],[19.55,-33.25],[20.65,-35.45],[19.55,-35.65],[27.4,-32.65],[26.55,-37.5],[27.95,-37.5],[30.35,-39.75],[29.65,-40.5],[28.5,-40.5],[30.2,-40.9],[29.65,-39.75],[31.6,-45],[31.9,-45.7],[34,-43.5],[35.8,-31.9],[37.2,-30.4],[38.6,-31.35],[37.8,-31.75],
[20.35,-32.6],[19.85,-33.3],[21.45,-33.15],[18.85,-33.8],[21.2,-34.55],[19,-35.1],[20.1,-35.4],[18.85,-35.9],[20.3,-37.2],[22,-37.25],[21.35,-37.9],[22.85,-35.85],[23.6,-37.7],[26.95,-32.65],[28.15,-33.5],[27,-33.65],[26.5,-34.8],[28.25,-35.1],[29.35,-32.2],[30.9,-32.4],[32.15,-33.1],[33.15,-33.3],[30.1,-35.55],[28.3,-36.45],[34.1,-35.7],[27.25,-37.5],[26.25,-37.9],[30,-37.8],[31.45,-38.85],[30.75,-39.3],[29.05,-40.4],[30.9,-41.15],[29.9,-39.4],[33.2,-41.85],[34.75,-41.55],[35.2,-42.9],[34.4,-43.7],[32.7,-44.05],[31.45,-43.7],[29.1,-44.85],[31.05,-44.7],[34.25,-45.05],[32.3,-45.85],[32.25,-44.7],[29.75,-46.55],[31.05,-46.1],[29.05,-47.1],[36.1,-30.05],[38.05,-30],[36.95,-31.25],[38.75,-30.25],[39.3,-31.1],[40,-32],[35,-31.75],[34.4,-32],[35.5,-32.6],[36.25,-32.5],[37.5,-32.1],[38.9,-32.1],[39.45,-32.85]
]

const yCoordinate=[
[-2.5,43],
[-32.65,-15.9],[-31.95,-16.25],[-34.35,-17.75],[-35.9,-17.2],[-34.05,-18.5],[-36,-20.5],[-31.8,-21.85],[-26.8,-23.7],[-26.5,-24.85],[-27.2,-25.2],[-22.55,-27.1],[-21,-28.2],[-23.1,-29.3],[-23.1,-30.4],[-24.25,-31.55],[-22.3,-33.05],[-37.7,-27.05],[-38.3,-29.7],[-22,-31.2],
[-24.65,-48.3],[-25.65,-47.95],[-27.05,-48.5],[-24.8,-49.45],[-24.5,-50.95],[-23.1,-49.8],[-22.3,-51.7],[-23.55,-51.7],[-28.05,-49.45],[-28.85,-48.5],[-24.4,-47.2],[-30.8,-39.55],[-30.8,-41.8],[-17.8,-34.15],[-16.95,-34.3],[-15,-35.8],[-14.1,-33.8],[-14.85,-34.5],[-21.7,-32.65],
[15.6,-46.65],[14.9,-46.1],[12.5,-47.6],[15.6,-47.8],[19.5,-41.05],[20.35,-41.05],[19.25,-39.95],[18.1,-40.15],
[23.45,-42.75],[24.3,-42],[25.15,-42.4],[26.25,-42.75],[27.95,-42.75],[26.85,-42.75],[24.3,-43.5],[23.9,-44.45],[27.1,-44.25],[19.55,-39.75],[19.8,-40.5],[19.55,-41.6],[20.5,-39.75],[26.25,-36.4],[26.55,-39.4],[24.85,-35.65],[23.2,-33.8],
[-32.3,-15.4],[-32.95,-15.6],[-31.7,-15.7],[-34.05,-16.3],[-36.25,-17.05],[-34.9,-17.4],[-30.5,-17.5],[-35,-19],[-36.3,-19.8],[-35.5,-20.7],[-33.5,-17.75],[-31.8,-18.3],[-28.9,-20.5],[-28.3,-20.15],[-31,-22.3],[-32.1,-22.2],[-29.5,-23.05],[-26.9,-24.6],[-24.65,-24.4],[-23.4,-24.9],[-22.85,-25.95],[-24.25,-26.4],[-25.9,-27.45],[-25.9,-26.25],[-38.05,-27.05],[-37,-26.7],[-38.55,-27.7],[-35.9,-29.2],[-37.75,-29.1],[-37.75,-30.35],[-36.8,-30.9],[-34.55,-30.1],[-33.9,-31.45],[-32.75,-32.5],[-27.25,-30.1],[-28.15,-30.9],[-24.45,-28.55],[-24.8,-29.95],[-22.55,-29.7],[-20.6,-27.55],[-20.6,-29.4],[-21.7,-30.4],[-23.1,-31.25],[-21.95,-31.75],[-24.65,-31.85],[-23.9,-32.65],[-22.15,-32.85],[-21.3,-33.6],[-23.4,-28],[-22.3,-28.4],
[-23.9,-32.75],[-22.2,-32.95],[-21.35,-33.6],[-21.45,-34.6],[-30.55,-39.35],[-30.55,-40.7],[-30.2,-41.25],[-31.25,-41.7],[-28.55,-41.7],[-27.45,-42.1],[-26.75,-41.55],[-24.7,-43.85],[-25.5,-42.55],[-27.45,-44.8],[-28.45,-48.7],[-27.75,-49.75],[-27.8,-50.4],[-26.6,-50.1],[-26.35,-49.25],[-26.05,-48.15],[-25.1,-47.6],[-23.8,-46.85],[-23.6,-48.15],[-24.8,-46.85],[-24.05,-49.4],[-25.2,-49.45],[-25.1,-50.75],[-23.55,-50.4],[-22.15,-50.45],[-21.5,-49.4],[-20.9,-49.15],[-22.85,-51.15],[-24,-51.95],[-22.6,-52.45],[-23.1,-52.35],[-21.7,-52.25],[-21.15,-51.75],
[-17.3,-40.55],[-16.8,-41.55],[-18.5,-42.15],[-17.5,-43.1],[-19.1,-43.4],[-19.05,-41.4],[-16.65,-42.75],[-18.25,-32],[-17.35,-33.65],[-16.6,-34.6],[-18.2,-33.2],[-18.05,-34.45],[-14.5,-33.85],[-15.8,-36.1],[-14.55,-36.65],[-15,-33.5],[-13.5,-34.8],
[-14.9,-18],[-13.9,-18.1],[-13.25,-18.3],[-12.4,-18.95],[-11.5,-20],[-20.55,-27.55],[-20.55,-29.4],[-18.1,-28.6],[-17.65,-29.85],[-19.2,-30.5],[-18.8,-31.9],[-17.7,-31],[-15.85,-29.05],[-18.3,-33.2],[-17.3,-33.7],[-18.05,-34.55],[-16.6,-34.65],[-14.4,-33.95],[-15.15,-33.6],[-13.3,-34.8],[-15.75,-36],[-14.5,-36.7],[-13.45,-36.3],[-12.65,-35.65],[-12,-36.65],[-11.15,-38.4],[-10.55,-37.7],[-9.4,-38.2],[-10.2,-38.8],[-7.05,-29.75],[-7.5,-34],[-6.25,-34.15],[-4.9,-34.7],[-7.85,-35.35],[-6.8,-35.1],[-5.85,-35.35],[-6.6,-36.4],[-5.85,-37.8],[-6.55,-38.45],[-6.35,-39.4],
[-0.25,-45.15],[0.4,-46.55],[-0.55,-47.15],[1.3,-47.6],[-0.6,-47.95],[-0.05,-48.5],[2.15,-47.2],[1.15,-46.1],[-1.1,-45.9],[0.3,-45.35],
[1.65,-38.45],[11.95,-34.7],[8.85,-34.7],[10.25,-33.8],[2.45,-42.65],[3.6,-42.4],[4.8,-42.1],[5.75,-41.6],[7.3,-42.25],[14.2,-40.85],[15.3,-42],[14.75,-42.55],[16,-42],[16,-43.1],[15.85,-44.05],[18.3,-44.9],[18.5,-46.2],[17.55,-46.2],[17,-46.4],[16.15,-45.9],[15.25,-45.75],[16.15,-47.25],[15.9,-48.9],[11.8,-47.6],[11.4,-47.2],[12.8,-47.05],[13.6,-47.05],[15.05,-48.55],[17.6,-40.5],[18.7,-39.75],[20.1,-40.45],[21.45,-40.25],[17.9,-41.8],[19.1,-42.2],[19.95,-42.4],[20.95,-41.45],[20.8,-42.75],[22,-43.75],[21.35,-43.7],
[25.65,-32.65],[23.55,-34.1],[24.6,-34],[25.05,-34.8],[24.25,-35.55],[23.55,-36.15],[24.65,-36.85],[26.95,-36.35],[25.3,-38.45],[26.05,-39.4],[27.05,-39.5],[28.35,-39.2],[24.15,-40.25],[25.4,-40.75],[27.45,-41.05],[24.65,-42.5],[23.8,-42.65],[25.4,-42.95],[26.55,-41.9],[27.25,-42.55],[27.8,-43.25],[29.5,-42.8],[28.65,-42],[26.85,-43.55],[25.9,-44.5],[24.85,-44.45],[23.95,-45.3],[18.7,-39.7],[20.15,-40.45],[21.45,-40.3],[19.67,-39.7],[19.85,-41.3],[18.1,-41.8],[19.05,-42.2],[20.05,-42.35],[20.8,-42.95],[18.35,-45],[18.45,-46.2],[18,-40.5]
]

const zCoordinate=[
[3.55,39.6],[4.4,39.3],[5.2,39.8],[3.8,38.3],
[-31.55,-30.4],[-30.4,-30.8],[-30.3,-31.55],[-28.7,-24.8],[-28.15,-25.95],[-29.55,-24.45],[-30.7,-25.2],[-30.7,-26.3],[-32.1,-24.85],[-33.5,-24.85],[-33.2,-25.2],[-36.75,-24.45],[-36.45,-22.6],[-32.65,-19.6],[-33.1,-19.4],[-32.5,-21.3],[-23.1,-19.2],[-25.9,-14.75],[-25.1,-15.5],
[-15.55,-31],[-14.4,-31],[-13.7,-29.85],[-12.75,-30.05],[-11.35,-28.75],[-10.2,-28.75],[-9.4,-29.1],[-13.6,-31.35],[-14.7,-31.7],[-16.1,-31],
[-27.75,-36.95],[-27.3,-38.05],[-26.2,-40.7],[-28.3,-35.25],[-29.3,-35.8],[-25.35,-43.85],[-28.75,-47],
[-41.6,-18.2],[-40.45,-18.2],[-41.6,-19.25],[-39.5,-22.5],[-39.25,-21.55],[-35.75,-18.1],[-34,-19.7],[-33.2,-18.85],[-32.1,-19.5],[-32.95,-20.45],[-34.25,-21.35],[-32.65,-21.3],[-30.4,-20.4],[-30.15,-19.5],[-36.1,-21.85],[-36.8,-22.4],[-35.5,-23.1],[-36.85,-23.7],[-36.25,-25.2],[-35.1,-24.8],[-34.35,-26.9],[-33.6,-27.15],[-32.85,-24.2],[-32.9,-25.4],[-33.8,-24.3],[-31.45,-23.7],[-31.55,-25.4],[-31.1,-26.15],[-32.4,-28],[-31.1,-28.55],[-30.4,-29.1],[-30,-24.25],[-29.3,-27.05],[-30.3,-25.4],[-30.3,-27.05],[-28.85,-24.8],[-28,-25.4],[-27.95,-27],[-27.2,-27.6],[-27.95,-29.1],[-29.3,-29.75],[-31,-30.7],[-31.25,-31.65],[-29.85,-31.7],[-28.9,-32],[-32,-30.4],[-30.7,-31.7],[-29.45,-31],
[-28.15,-15.1],[-27.25,-15.1],[-26.2,-14.75],[-25,-14.65],[-26.05,-16.6],[-24.4,-17.8],[-23,-16.5],[-22.4,-15.6],[-21.7,-16.5],[-26.65,-18.5],[-23.55,-19],[-22.75,-19.9],[-24.9,-21.5],[-27.6,-22.2],[-27,-22.8],[-25.8,-23.4],[-22.15,-27.2],
[-26.4,-33.1],[-27.4,-33.8],[-28.05,-34.15],[-29.1,-34.7],[-25.5,-34.45],[-25.3,-35.75],[-24.3,-36.85],[-22.55,-36.6],[-28.8,-35.95],[-27.2,-36.3],[-28.3,-37.05],[-30.4,-37.85],[-29.15,-39.35],[-27.45,-38.2],[-26.4,-38.25],[-27.1,-39.55],[-27.9,-39.75],[-25.9,-38.8],[-26.5,-40.5],[-25.8,-41.05],[-25.5,-41.7],[-23,-39.8],[-21.85,-39.5],[-21.3,-39.7],[-25.85,-43.5],[-25.6,-44.4],[-25.2,-45.35],[-24.9,-46.3],[-26.2,-46.3],[-28.95,-44.9],[-27.95,-45.3],[-28,-46],[-29.7,-46.5],[-29.1,-47],[-27.25,-47.3],[-28.3,-47.2],
[-13.85,-13.9],[-12.55,-14.05],[-11.85,-14.25],[-11.2,-14.75],[-12.5,-15.85],[-16.8,-15.95],[-17.4,-15.95],[-9.65,-15.6],[-8.95,-15.3],[-8.8,-16.05],[-9.4,-16.95],[-8.75,-17.1],[-10.6,-17.65],[-19.45,-18.2],[-19.55,-17.55],[-14.1,-20.1],[-13.3,-21.1],[-11.85,-20.6],[-12.05,-21.3],[-19.9,-21.7],[-19.35,-22.3],[-18.7,-21.65],[-18.1,-22.85],[-17.4,-22.95],
[-12.3,-27.9],[-9.65,-28.5],[-12.1,-29.2],[-14.85,-30.05],[-13.65,-30.6],[-9.1,-29.7],[-8.4,-29.8],[-10.8,-28.4],[-11.05,-30.25],[-10.7,-31.1],[-12.1,-31.35],[-14.25,-31.55],[-15.85,-31.55],[-16.75,-31.7],[-15.75,-32.65],[-15.15,-31.35],[-13.2,-29.85],[-10.1,-29.7],[-11.5,-29.3],[-2.7,-44.4],[-2.85,-43.5],
[10.05,-34.65],[9.25,-35.55],[10.5,-36.15],[9.15,-36.6],[11.1,-35.55],[10.3,-37.25],[3.6,-38.65],[3.4,-40.3],[2.85,-39.85],[4.35,-39.85],[4.25,-40.75],[5.7,-39.75],[6.55,-40.85],[7.75,-40.7],[7.95,-39.4],[9,-39.4],[9.85,-38.8],[9.15,-40.1],[10.6,-40],[11.4,-42.3],[12.95,-42.2],[12.5,-42.9],[12.65,-44.25],[13.2,-44.9],[14.5,-44.25],[12.2,-45.15],[14.3,-47.65],[15.35,-46.85],[12.3,-50.2],[13.05,-50],[13.8,-50.2],[13.9,-49.1]
]

const ellipse=[
[40.4,-31.7],[36.4,-26.3],[31.3,-22.1],[25.4,-18.5],[19.5,-15.7],[13.6,-13.4],[6.9,-11.8],[0.2,-10.6],[-5.7,-10.2],[-11.2,-10.1],[-16.7,-10.4],[-22.6,-11.3],[-27.6,-12.9],[-31.8,-14.6],[-36.9,-17.6],[-40.2,-20.2],[-42.8,-23.5],[-44.6,-27.4],[-45.7,-32.5],[-45.1,-36.4],[-43.2,-40.9],[-40.2,-45.4],[-36,-50.4],[-31.8,-53.8],[-26.8,-56.6],[-20,-59.4],[-12.5,-62.2],[-4.9,-64.6],[2.7,-66.3],[11.1,-66.9],[18.7,-66.3],[25.4,-65],[31.3,-62.2],[38,-58.2],[42.3,-53.8],[44.8,-49.3],[45.9,-44.8],[45.2,-39.8],[43.5,-35.8],[40.4,-31.7]
]

const series=[yRotation,zRotation,xTranslation,yTranslation,zTranslation,xCoordinate,yCoordinate,zCoordinate]

// small ellipse sprite, the reference is stretched so the dots are not round
function dot(color,w,h,edge){
const c=document.createElement("canvas")
c.width=w+edge*2
c.height=h+edge*2
const g=c.getContext("2d")
if(edge>0){
g.fillStyle="#fff"
g.beginPath()
g.ellipse(c.width/2,c.height/2,c.width/2,c.height/2,0,0,Math.PI*2)
g.fill()
}
g.fillStyle=color
g.beginPath()
g.ellipse(c.width/2,c.height/2,w/2,h/2,0,0,Math.PI*2)
g.fill()
return c
}

const toXY=p=>({x:p[0],y:p[1]})
const minusSign=v=>String(v).replace("-","\u2212")
const blank=document.createElement("canvas")
blank.width=1
blank.height=1

const datasets=series.map((s,i)=>({
label:labels[i],
data:s.map(toXY),
pointStyle:dot(colors[i],14,12,1),
pointRadius:7,
showLine:false,
order:series.length-i
}))

datasets.push({
label:"ellipse",
data:ellipse.map(toXY),
showLine:true,
tension:0.4,
pointRadius:0,
borderColor:"#0000f0",
borderWidth:6,
borderDash:[24,16,6,16],
order:-1
})

// frame and legend box, legend is moved to the spot it has in the reference
const framePlugin={
id:"frame",
afterLayout(chart){
chart.legend.left=83
chart.legend.top=17
},
afterDraw(chart){
const a=chart.chartArea
const g=chart.ctx
g.save()
g.strokeStyle="#000"
g.lineWidth=5
g.strokeRect(a.left,a.top,a.right-a.left,a.bottom-a.top)
g.lineWidth=3
g.strokeRect(91,19,255,286)
g.restore()
}
}

function noPadding(axis){
axis.paddingTop=0
axis.paddingBottom=0
axis.paddingLeft=0
axis.paddingRight=0
}

new Chart(document.getElementById("chart"),{
type:"scatter",
data:{datasets},
plugins:[framePlugin],
options:{
responsive:false,
animation:false,
layout:{padding:{top:6.5,right:8,left:0,bottom:0}},
scales:{
x:{
min:-60.8,
max:58.43,
afterBuildTicks(axis){axis.ticks=xTicks.map(v=>({value:v}))},
afterFit(axis){axis.height=46;noPadding(axis)},
grid:{drawOnChartArea:false,tickLength:8,tickWidth:2,tickColor:"#222"},
border:{display:false},
ticks:{autoSkip:false,maxRotation:0,padding:3,color:"#262626",font:{family:"DejaVu Sans",size:23},callback:minusSign}
},
y:{
min:-67.39,
max:65.88,
afterBuildTicks(axis){axis.ticks=yTicks.map(v=>({value:v}))},
afterFit(axis){axis.width=75.5;noPadding(axis)},
grid:{drawOnChartArea:false,tickLength:8,tickWidth:2,tickColor:"#222"},
border:{display:false},
ticks:{autoSkip:false,padding:10,color:"#262626",font:{family:"DejaVu Sans",size:23},callback:minusSign}
}
},
plugins:{
tooltip:{enabled:false},
legend:{
position:"chartArea",
align:"start",
labels:{
usePointStyle:true,
pointStyleWidth:67,
padding:6.5,
color:"#262626",
font:{family:"DejaVu Sans",size:25},
generateLabels(){
const items=labels.map((t,i)=>({text:t,pointStyle:dot(colors[i],18,15,0),fontColor:"#262626",lineWidth:0,datasetIndex:i}))
items.unshift({text:legendTitle,pointStyle:blank,fontColor:"#262626",lineWidth:0})
return items
}
}
}
}
}
})
</script>
</body>
</html>
